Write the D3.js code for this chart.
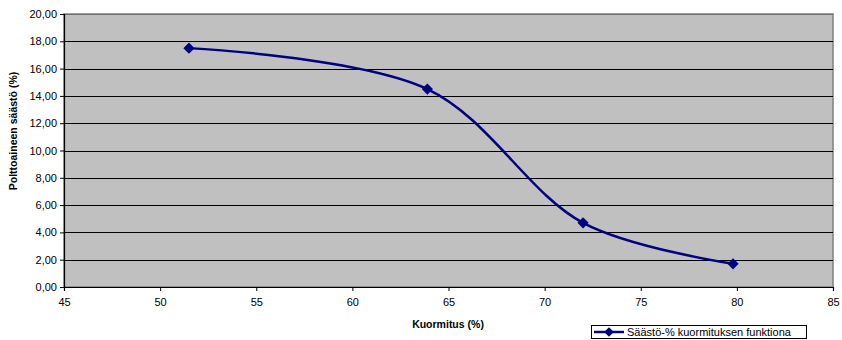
<!DOCTYPE html>
<html>
<head>
<meta charset="utf-8">
<script src="https://cdn.jsdelivr.net/npm/d3@7"></script>
<style>
  body { margin: 0; background: #fff; }
  svg { font-family: "Liberation Sans", Arial, sans-serif; }
</style>
</head>
<body>
<svg id="chart" width="842" height="340"></svg>
<script>
// data
const loads = [51.5, 63.9, 72.0, 79.8];
const savings = [17.5, 14.5, 4.7, 1.7];
const xTicks = [45, 50, 55, 60, 65, 70, 75, 80, 85];
const yTicks = [0, 2, 4, 6, 8, 10, 12, 14, 16, 18, 20];
const seriesName = "Säästö-% kuormituksen funktiona";

const data = loads.map((d, i) => ({ x: d, y: savings[i] }));

const svg = d3.select("#chart");
const margin = { top: 14, right: 9, bottom: 53, left: 64 };
const width = +svg.attr("width");
const height = +svg.attr("height");

const x = d3.scaleLinear().domain([45, 85]).range([margin.left, width - margin.right]);
const y = d3.scaleLinear().domain([0, 20]).range([height - margin.bottom, margin.top]);

// plot area
svg.append("rect")
  .attr("x", x(45)).attr("y", y(20))
  .attr("width", x(85) - x(45)).attr("height", y(0) - y(20))
  .attr("fill", "#c0c0c0")
  .attr("stroke", "#808080")
  .attr("stroke-width", 1.5);

// gridlines
svg.append("g")
  .selectAll("line")
  .data(yTicks.filter(d => d > 0))
  .join("line")
  .attr("x1", x(45)).attr("x2", x(85))
  .attr("y1", d => Math.round(y(d)) + 0.5).attr("y2", d => Math.round(y(d)) + 0.5)
  .attr("stroke", d => d === 20 ? "#707070" : "#000")
  .attr("stroke-width", 1.2);

// axes
const fmt = d => d3.format(".2f")(d).replace(".", ",");
const yAxis = svg.append("g")
  .attr("transform", `translate(${x(45)},0)`)
  .call(d3.axisLeft(y).tickValues(yTicks).tickFormat(fmt).tickSize(4).tickPadding(3));
yAxis.select(".domain").attr("stroke", "#000").attr("stroke-width", 1.2);
yAxis.selectAll("text").attr("font-size", "11px").attr("fill", "#000");

const xAxis = svg.append("g")
  .attr("transform", `translate(0,${y(0)})`)
  .call(d3.axisBottom(x).tickValues(xTicks).tickSize(4).tickPadding(7));
xAxis.select(".domain").attr("stroke", "#000").attr("stroke-width", 1.2);
xAxis.selectAll("text").attr("font-size", "11px").attr("fill", "#000");

// series line (smoothed like the spreadsheet)
const line = d3.line()
  .x(d => x(d.x))
  .y(d => y(d.y))
  .curve(d3.curveCatmullRom.alpha(0.5));

svg.append("path")
  .datum(data)
  .attr("fill", "none")
  .attr("stroke", "#000080")
  .attr("stroke-width", 2.5)
  .attr("d", line);

const diamond = d3.symbol().type(d3.symbolDiamond2).size(80);
svg.append("g")
  .selectAll("path")
  .data(data)
  .join("path")
  .attr("transform", d => `translate(${x(d.x)},${y(d.y)})`)
  .attr("d", diamond)
  .attr("fill", "#000080");

// axis titles
svg.append("text")
  .attr("x", 448).attr("y", 328)
  .attr("text-anchor", "middle")
  .attr("font-size", "10.5px").attr("font-weight", "bold")
  .text("Kuormitus (%)");

svg.append("text")
  .attr("transform", "translate(17,131) rotate(-90)")
  .attr("text-anchor", "middle")
  .attr("font-size", "10.5px").attr("font-weight", "bold")
  .text("Polttoaineen säästö (%)");

// legend
const legend = svg.append("g").attr("transform", "translate(591,325)");
legend.append("rect")
  .attr("x", 0.5).attr("y", 0.5)
  .attr("width", 215).attr("height", 13)
  .attr("fill", "#fff").attr("stroke", "#000");
legend.append("line")
  .attr("x1", 3).attr("x2", 33).attr("y1", 7).attr("y2", 7)
  .attr("stroke", "#000080").attr("stroke-width", 2.5);
legend.append("path")
  .attr("transform", "translate(18,7)")
  .attr("d", d3.symbol().type(d3.symbolDiamond2).size(60))
  .attr("fill", "#000080");
legend.append("text")
  .attr("x", 36).attr("y", 11)
  .attr("font-size", "11px")
  .text(seriesName);
</script>
</body>
</html>
